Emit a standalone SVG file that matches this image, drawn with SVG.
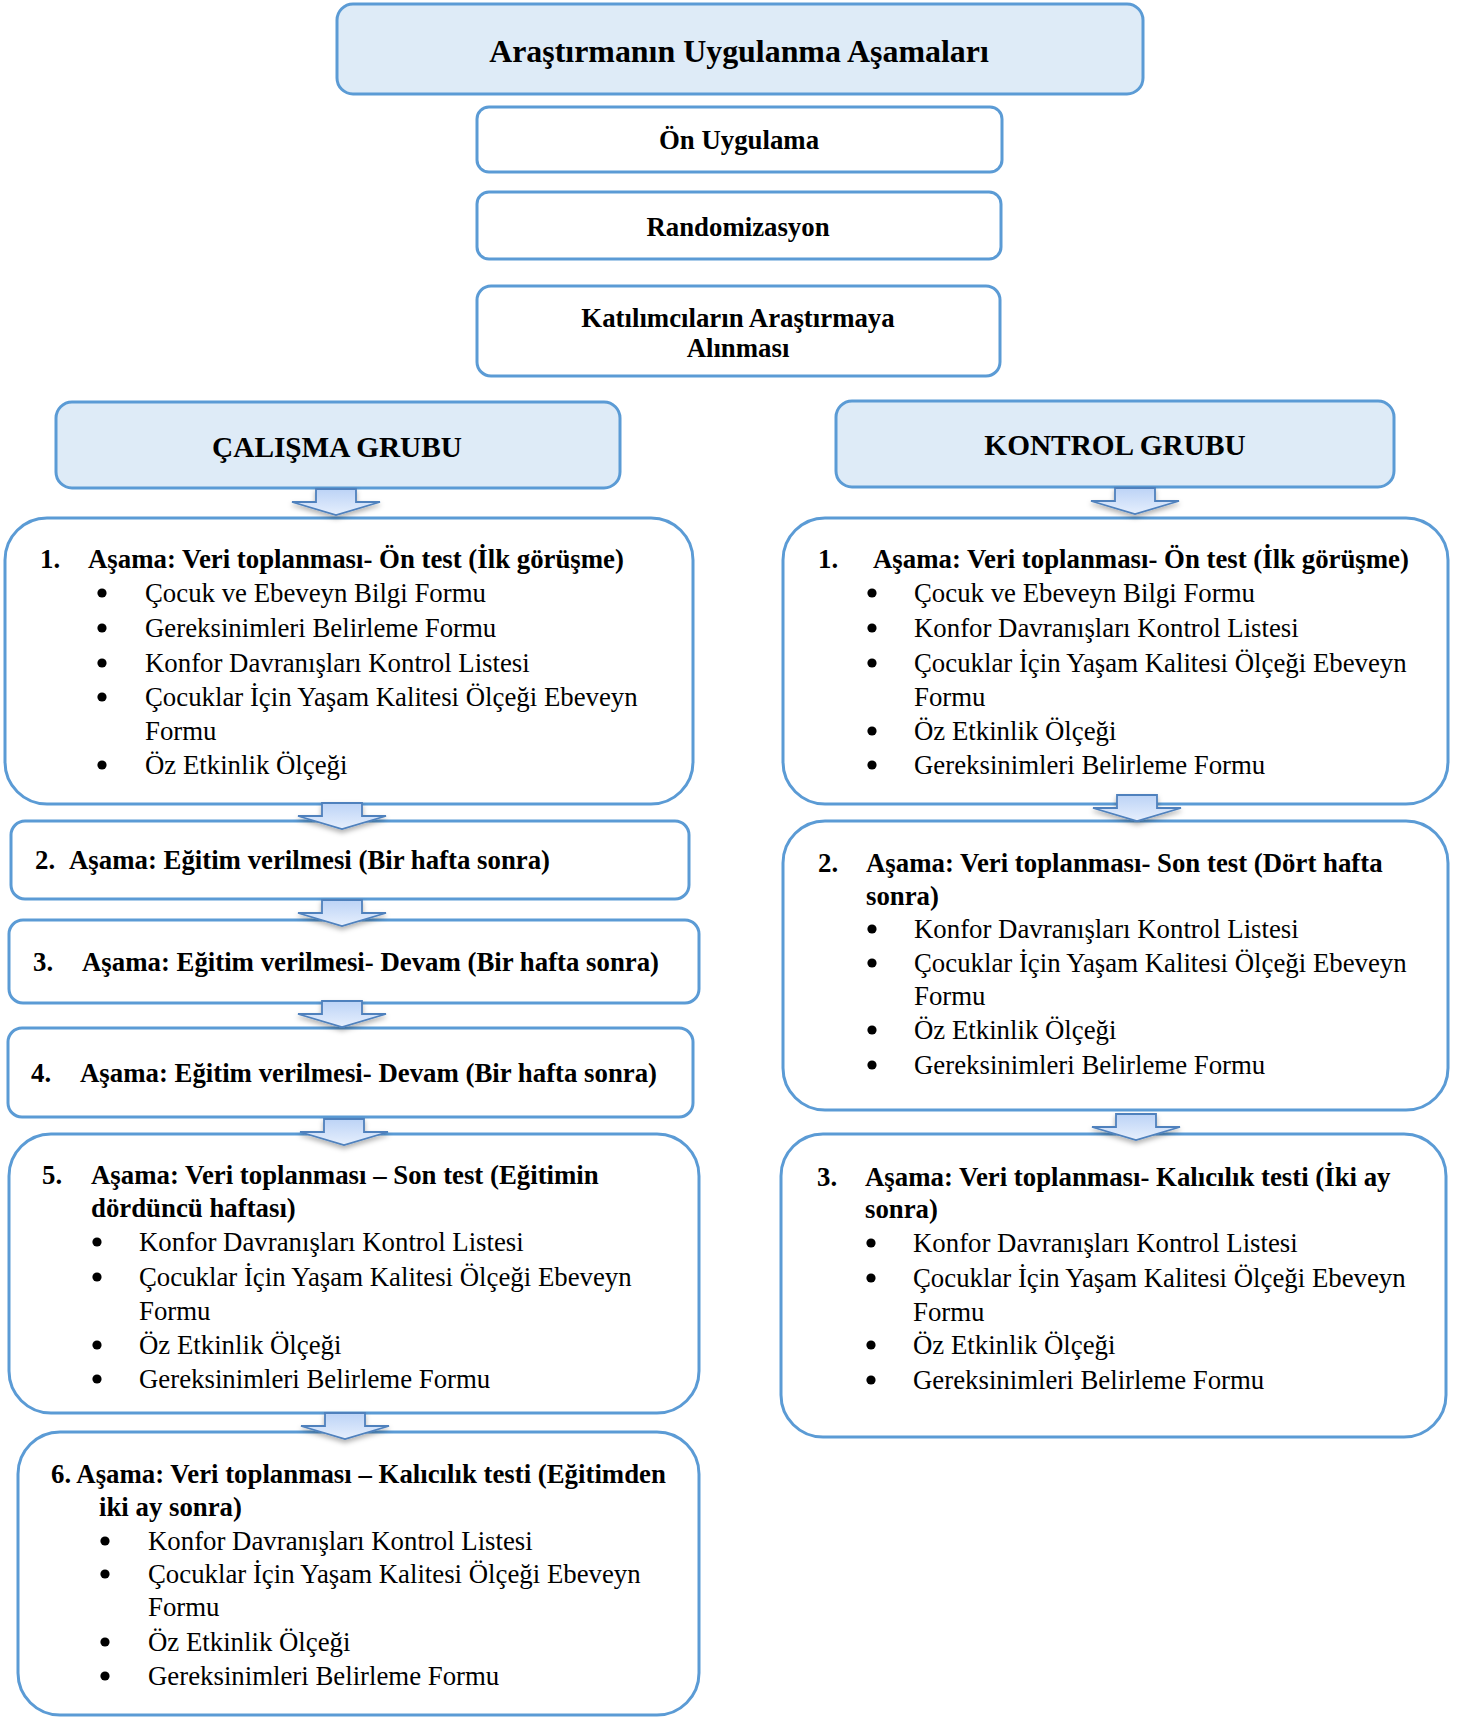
<svg xmlns="http://www.w3.org/2000/svg" xmlns:xlink="http://www.w3.org/1999/xlink" width="1462" height="1717" viewBox="0 0 1462 1717">
<style>
.box{fill:#ffffff;stroke:#5b9bd5;stroke-width:3}
.hbox{fill:#deebf7;stroke:#5b9bd5;stroke-width:3}
.t{font-family:"Liberation Serif","Times New Roman",serif;font-size:26.8px;fill:#000}
.b{font-weight:bold}
.c{text-anchor:middle}
.bu{fill:#000}
.arr{fill:url(#ag);stroke:#4f81bd;stroke-width:1.8;stroke-linejoin:miter}
</style>
<defs>
<linearGradient id="ag" x1="0" y1="0" x2="0" y2="1">
<stop offset="0" stop-color="#bcd3f6"/>
<stop offset="1" stop-color="#e6effd"/>
</linearGradient>
<filter id="sh" x="-30%" y="-30%" width="160%" height="180%">
<feDropShadow dx="0" dy="3" stdDeviation="2.5" flood-color="#000" flood-opacity="0.3"/>
</filter>
<path id="arrow" class="arr" d="M-20,0 L20,0 L20,13 L44,13 L0,26 L-44,13 L-20,13 Z"/>
<circle id="dot" class="bu" cx="0" cy="0" r="4.6"/>
</defs>

<g id="title"><rect class="hbox" x="337" y="4" width="806" height="90" rx="16"/>
<text class="t b c" x="739" y="62" style="font-size:31.9px">Araştırmanın Uygulanma Aşamaları</text></g>
<g id="on-uygulama"><rect class="box" x="477" y="107" width="525" height="65" rx="12"/>
<text class="t b c" x="739" y="149">Ön Uygulama</text></g>
<g id="randomizasyon"><rect class="box" x="477" y="192" width="524" height="67" rx="12"/>
<text class="t b c" x="738" y="236">Randomizasyon</text></g>
<g id="katilimci"><rect class="box" x="477" y="286" width="523" height="90" rx="14"/>
<text class="t b c" x="738" y="327">Katılımcıların Araştırmaya</text>
<text class="t b c" x="738" y="357">Alınması</text></g>

<g id="calisma-grubu"><rect class="hbox" x="56" y="402" width="564" height="86" rx="16"/>
<text class="t b c" x="337" y="457" style="font-size:29.3px">ÇALIŞMA GRUBU</text></g>
<g id="kontrol-grubu"><rect class="hbox" x="836" y="401" width="558" height="86" rx="16"/>
<text class="t b c" x="1115" y="455" style="font-size:29.3px">KONTROL GRUBU</text></g>

<g id="c1"><rect class="box" x="5" y="518" width="688" height="286" rx="42"/>
<text class="t b" x="40" y="568">1.</text>
<text class="t b" x="88" y="568">Aşama: Veri toplanması- Ön test (İlk görüşme)</text>
<use xlink:href="#dot" x="102" y="593"/><text class="t" x="145" y="602">Çocuk ve Ebeveyn Bilgi Formu</text>
<use xlink:href="#dot" x="102" y="628"/><text class="t" x="145" y="637">Gereksinimleri Belirleme Formu</text>
<use xlink:href="#dot" x="102" y="663"/><text class="t" x="145" y="672">Konfor Davranışları Kontrol Listesi</text>
<use xlink:href="#dot" x="102" y="697"/><text class="t" x="145" y="706">Çocuklar İçin Yaşam Kalitesi Ölçeği Ebeveyn</text>
<text class="t" x="145" y="740">Formu</text>
<use xlink:href="#dot" x="102" y="765"/><text class="t" x="145" y="774">Öz Etkinlik Ölçeği</text></g>

<g id="c2"><rect class="box" x="11" y="821" width="678" height="78" rx="14"/>
<text class="t b" x="35" y="869">2.</text>
<text class="t b" x="69" y="869">Aşama: Eğitim verilmesi (Bir hafta sonra)</text></g>

<g id="c3"><rect class="box" x="9" y="920" width="690" height="83" rx="14"/>
<text class="t b" x="33" y="971">3.</text>
<text class="t b" x="82" y="971">Aşama: Eğitim verilmesi- Devam (Bir hafta sonra)</text></g>

<g id="c4"><rect class="box" x="8" y="1028" width="685" height="89" rx="14"/>
<text class="t b" x="31" y="1082">4.</text>
<text class="t b" x="80" y="1082">Aşama: Eğitim verilmesi- Devam (Bir hafta sonra)</text></g>

<g id="c5"><rect class="box" x="9" y="1134" width="690" height="279" rx="42"/>
<text class="t b" x="42" y="1184">5.</text>
<text class="t b" x="91" y="1184">Aşama: Veri toplanması – Son test (Eğitimin</text>
<text class="t b" x="91" y="1217">dördüncü haftası)</text>
<use xlink:href="#dot" x="97" y="1242"/><text class="t" x="139" y="1251">Konfor Davranışları Kontrol Listesi</text>
<use xlink:href="#dot" x="97" y="1277"/><text class="t" x="139" y="1286">Çocuklar İçin Yaşam Kalitesi Ölçeği Ebeveyn</text>
<text class="t" x="139" y="1320">Formu</text>
<use xlink:href="#dot" x="97" y="1345"/><text class="t" x="139" y="1354">Öz Etkinlik Ölçeği</text>
<use xlink:href="#dot" x="97" y="1379"/><text class="t" x="139" y="1388">Gereksinimleri Belirleme Formu</text></g>

<g id="c6"><rect class="box" x="18" y="1432" width="681" height="283" rx="42"/>
<text class="t b" x="51" y="1483">6. Aşama: Veri toplanması – Kalıcılık testi (Eğitimden</text>
<text class="t b" x="99" y="1516">iki ay sonra)</text>
<use xlink:href="#dot" x="105" y="1541"/><text class="t" x="148" y="1550">Konfor Davranışları Kontrol Listesi</text>
<use xlink:href="#dot" x="105" y="1574"/><text class="t" x="148" y="1583">Çocuklar İçin Yaşam Kalitesi Ölçeği Ebeveyn</text>
<text class="t" x="148" y="1616">Formu</text>
<use xlink:href="#dot" x="105" y="1642"/><text class="t" x="148" y="1651">Öz Etkinlik Ölçeği</text>
<use xlink:href="#dot" x="105" y="1676"/><text class="t" x="148" y="1685">Gereksinimleri Belirleme Formu</text></g>

<g id="k1"><rect class="box" x="783" y="518" width="665" height="286" rx="42"/>
<text class="t b" x="818" y="568">1.</text>
<text class="t b" x="873" y="568">Aşama: Veri toplanması- Ön test (İlk görüşme)</text>
<use xlink:href="#dot" x="872" y="593"/><text class="t" x="914" y="602">Çocuk ve Ebeveyn Bilgi Formu</text>
<use xlink:href="#dot" x="872" y="628"/><text class="t" x="914" y="637">Konfor Davranışları Kontrol Listesi</text>
<use xlink:href="#dot" x="872" y="663"/><text class="t" x="914" y="672">Çocuklar İçin Yaşam Kalitesi Ölçeği Ebeveyn</text>
<text class="t" x="914" y="706">Formu</text>
<use xlink:href="#dot" x="872" y="731"/><text class="t" x="914" y="740">Öz Etkinlik Ölçeği</text>
<use xlink:href="#dot" x="872" y="765"/><text class="t" x="914" y="774">Gereksinimleri Belirleme Formu</text></g>

<g id="k2"><rect class="box" x="783" y="821" width="665" height="289" rx="42"/>
<text class="t b" x="818" y="872">2.</text>
<text class="t b" x="866" y="872">Aşama: Veri toplanması- Son test (Dört hafta</text>
<text class="t b" x="866" y="905">sonra)</text>
<use xlink:href="#dot" x="872" y="929"/><text class="t" x="914" y="938">Konfor Davranışları Kontrol Listesi</text>
<use xlink:href="#dot" x="872" y="963"/><text class="t" x="914" y="972">Çocuklar İçin Yaşam Kalitesi Ölçeği Ebeveyn</text>
<text class="t" x="914" y="1005">Formu</text>
<use xlink:href="#dot" x="872" y="1030"/><text class="t" x="914" y="1039">Öz Etkinlik Ölçeği</text>
<use xlink:href="#dot" x="872" y="1065"/><text class="t" x="914" y="1074">Gereksinimleri Belirleme Formu</text></g>

<g id="k3"><rect class="box" x="781" y="1134" width="665" height="303" rx="42"/>
<text class="t b" x="817" y="1186">3.</text>
<text class="t b" x="865" y="1186">Aşama: Veri toplanması- Kalıcılık testi (İki ay</text>
<text class="t b" x="865" y="1218">sonra)</text>
<use xlink:href="#dot" x="871" y="1243"/><text class="t" x="913" y="1252">Konfor Davranışları Kontrol Listesi</text>
<use xlink:href="#dot" x="871" y="1278"/><text class="t" x="913" y="1287">Çocuklar İçin Yaşam Kalitesi Ölçeği Ebeveyn</text>
<text class="t" x="913" y="1321">Formu</text>
<use xlink:href="#dot" x="871" y="1345"/><text class="t" x="913" y="1354">Öz Etkinlik Ölçeği</text>
<use xlink:href="#dot" x="871" y="1380"/><text class="t" x="913" y="1389">Gereksinimleri Belirleme Formu</text></g>

<g id="connectors" filter="url(#sh)">
<use xlink:href="#arrow" x="336" y="489"/>
<use xlink:href="#arrow" x="342" y="803"/>
<use xlink:href="#arrow" x="342" y="900"/>
<use xlink:href="#arrow" x="342" y="1001"/>
<use xlink:href="#arrow" x="344" y="1119"/>
<use xlink:href="#arrow" x="345" y="1413"/>
<use xlink:href="#arrow" x="1135" y="488"/>
<use xlink:href="#arrow" x="1137" y="795"/>
<use xlink:href="#arrow" x="1136" y="1114"/>
</g>
</svg>
